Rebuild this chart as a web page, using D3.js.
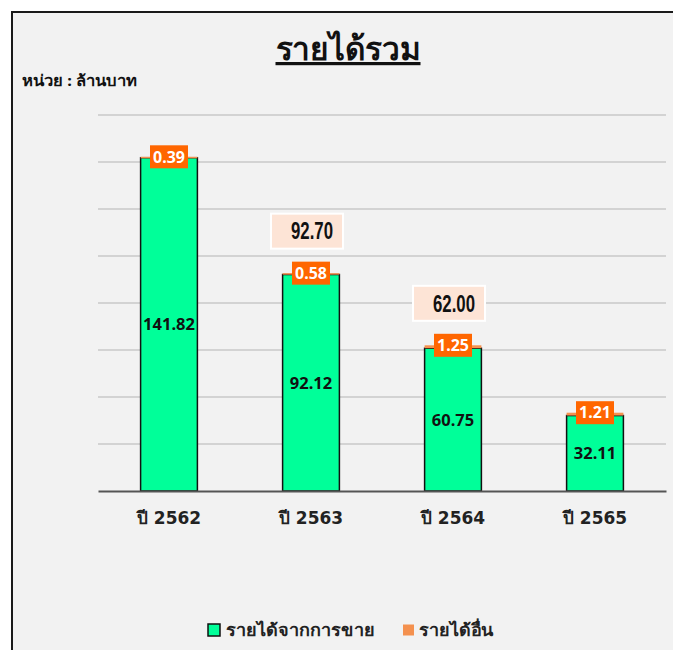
<!DOCTYPE html>
<html>
<head>
<meta charset="utf-8">
<script src="https://cdn.jsdelivr.net/npm/d3@7"></script>
<style>
  body { margin: 0; background: #fff; overflow: hidden; }
  svg { display: block; }
  text { font-family: "Noto Sans", "DejaVu Sans", Tahoma, sans-serif; }
</style>
</head>
<body>
<svg id="chart" width="673" height="650"></svg>
<script>
var years = ['ปี 2562', 'ปี 2563', 'ปี 2564', 'ปี 2565'];
var salesIncome = [141.82, 92.12, 60.75, 32.11];
var otherIncome = [0.39, 0.58, 1.25, 1.21];
var totalLabels = [null, '92.70', '62.00', null];
var seriesNames = ['รายได้จากการขาย', 'รายได้อื่น'];
var yTicks = [0, 20, 40, 60, 80, 100, 120, 140, 160];

var svg = d3.select('#chart'),
    margin = { top: 115, left: 98, right: 7, bottom: 159 },
    W = 673, H = 650,
    width = W - margin.left - margin.right,
    height = H - margin.top - margin.bottom;

// frame
svg.append('rect')
    .attr('x', 12).attr('y', 12)
    .attr('width', W + 20).attr('height', H + 20)
    .attr('fill', '#f2f2f2')
    .attr('stroke', '#1a1a1a')
    .attr('stroke-width', 2);

svg.append('text')
    .attr('x', 348).attr('y', 60)
    .attr('text-anchor', 'middle')
    .attr('font-size', 32).attr('font-weight', 'bold')
    .attr('text-decoration', 'underline')
    .attr('textLength', 145).attr('lengthAdjust', 'spacingAndGlyphs')
    .attr('fill', '#111')
    .text('รายได้รวม');

svg.append('text')
    .attr('x', 22).attr('y', 86)
    .attr('font-size', 15).attr('font-weight', 'bold')
    .attr('textLength', 115).attr('lengthAdjust', 'spacingAndGlyphs')
    .attr('fill', '#111')
    .text('หน่วย : ล้านบาท');

var g = svg.append('g').attr('transform', 'translate(' + margin.left + ',' + margin.top + ')');

var x = d3.scaleBand().domain(years).range([0, width]).paddingInner(0.6).paddingOuter(0.3),
    y = d3.scaleLinear().domain([0, 160]).range([height, 0]);

// grid
g.selectAll('.grid').data(yTicks.slice(1)).enter().append('line')
    .attr('class', 'grid')
    .attr('x1', 0).attr('x2', width)
    .attr('y1', function(d) { return y(d); }).attr('y2', function(d) { return y(d); })
    .attr('stroke', '#c8c8c8').attr('stroke-width', 1.5);

var data = years.map(function(yr, i) {
    return { year: yr, sales: salesIncome[i], other: otherIncome[i], total: totalLabels[i] };
});

// sales bars
g.selectAll('.sales').data(data).enter().append('rect')
    .attr('class', 'sales')
    .attr('x', function(d) { return x(d.year); })
    .attr('width', x.bandwidth())
    .attr('y', function(d) { return y(d.sales); })
    .attr('height', function(d) { return y(0) - y(d.sales); })
    .attr('fill', '#00ff99')
    .attr('stroke', '#111').attr('stroke-width', 1.5);

// other income bars
g.selectAll('.other').data(data).enter().append('rect')
    .attr('class', 'other')
    .attr('x', function(d) { return x(d.year); })
    .attr('width', x.bandwidth())
    .attr('y', function(d) { return y(d.sales + d.other); })
    .attr('height', function(d) { return Math.max(1.5, y(d.sales) - y(d.sales + d.other)); })
    .attr('fill', '#f4914f');

// axis
var xAxis = g.append('g')
    .attr('transform', 'translate(0,' + height + ')')
    .call(d3.axisBottom(x).tickSize(0).tickPadding(21));
xAxis.select('.domain').attr('stroke', '#555').attr('stroke-width', 2);
xAxis.selectAll('text')
    .attr('font-size', 17).attr('font-weight', 'bold').attr('fill', '#222')
    .style('font-family', '"DejaVu Sans", Tahoma, sans-serif');

// inner labels
g.selectAll('.salesLabel').data(data).enter().append('text')
    .attr('x', function(d) { return x(d.year) + x.bandwidth() / 2; })
    .attr('y', function(d) { return (y(0) + y(d.sales)) / 2; })
    .attr('dy', '0.36em')
    .attr('text-anchor', 'middle')
    .attr('font-size', 16.5).attr('font-weight', 'bold').attr('fill', '#111')
    .text(function(d) { return d.sales.toFixed(2); });

// other income labels
var ol = g.selectAll('.otherLabel').data(data).enter().append('g')
    .attr('transform', function(d) {
        return 'translate(' + (x(d.year) + x.bandwidth() / 2) + ',' + y(d.sales + d.other) + ')';
    });
ol.append('rect')
    .attr('x', -19).attr('y', -11.5).attr('width', 38).attr('height', 23)
    .attr('fill', '#ff6600');
ol.append('text')
    .attr('dy', '0.36em').attr('text-anchor', 'middle')
    .attr('font-size', 16).attr('font-weight', 'bold').attr('fill', '#fff')
    .text(function(d) { return d.other.toFixed(2); });

// total labels
var tl = g.selectAll('.totalLabel').data(data.filter(function(d) { return d.total; })).enter().append('g')
    .attr('transform', function(d) {
        return 'translate(' + (x(d.year) + x.bandwidth() / 2 - 4) + ',' + (y(d.sales + d.other) - 42) + ')';
    });
tl.append('rect')
    .attr('x', -36).attr('y', -17.5).attr('width', 72).attr('height', 35)
    .attr('fill', '#fde4d6').attr('stroke', '#fff').attr('stroke-width', 2);
tl.append('text')
    .attr('x', 5).attr('dy', '0.36em').attr('text-anchor', 'middle')
    .attr('font-size', 23).attr('font-weight', 'bold').attr('fill', '#111')
    .attr('textLength', 42).attr('lengthAdjust', 'spacingAndGlyphs')
    .style('font-family', '"Liberation Sans", Arial, sans-serif')
    .text(function(d) { return d.total; });

// legend
var legend = svg.append('g').attr('transform', 'translate(208,630)');
legend.append('rect').attr('x', 0).attr('y', -6).attr('width', 12).attr('height', 12)
    .attr('fill', '#00ff99').attr('stroke', '#111').attr('stroke-width', 1.5);
legend.append('text').attr('x', 18).attr('dy', '0.35em')
    .attr('font-size', 17).attr('font-weight', 'bold').attr('fill', '#222')
    .attr('textLength', 149).attr('lengthAdjust', 'spacingAndGlyphs')
    .text(seriesNames[0]);
legend.append('rect').attr('x', 195).attr('y', -5.5).attr('width', 11).attr('height', 11)
    .attr('fill', '#f4914f');
legend.append('text').attr('x', 211).attr('dy', '0.35em')
    .attr('font-size', 17).attr('font-weight', 'bold').attr('fill', '#222')
    .attr('textLength', 75).attr('lengthAdjust', 'spacingAndGlyphs')
    .text(seriesNames[1]);
</script>
</body>
</html>
